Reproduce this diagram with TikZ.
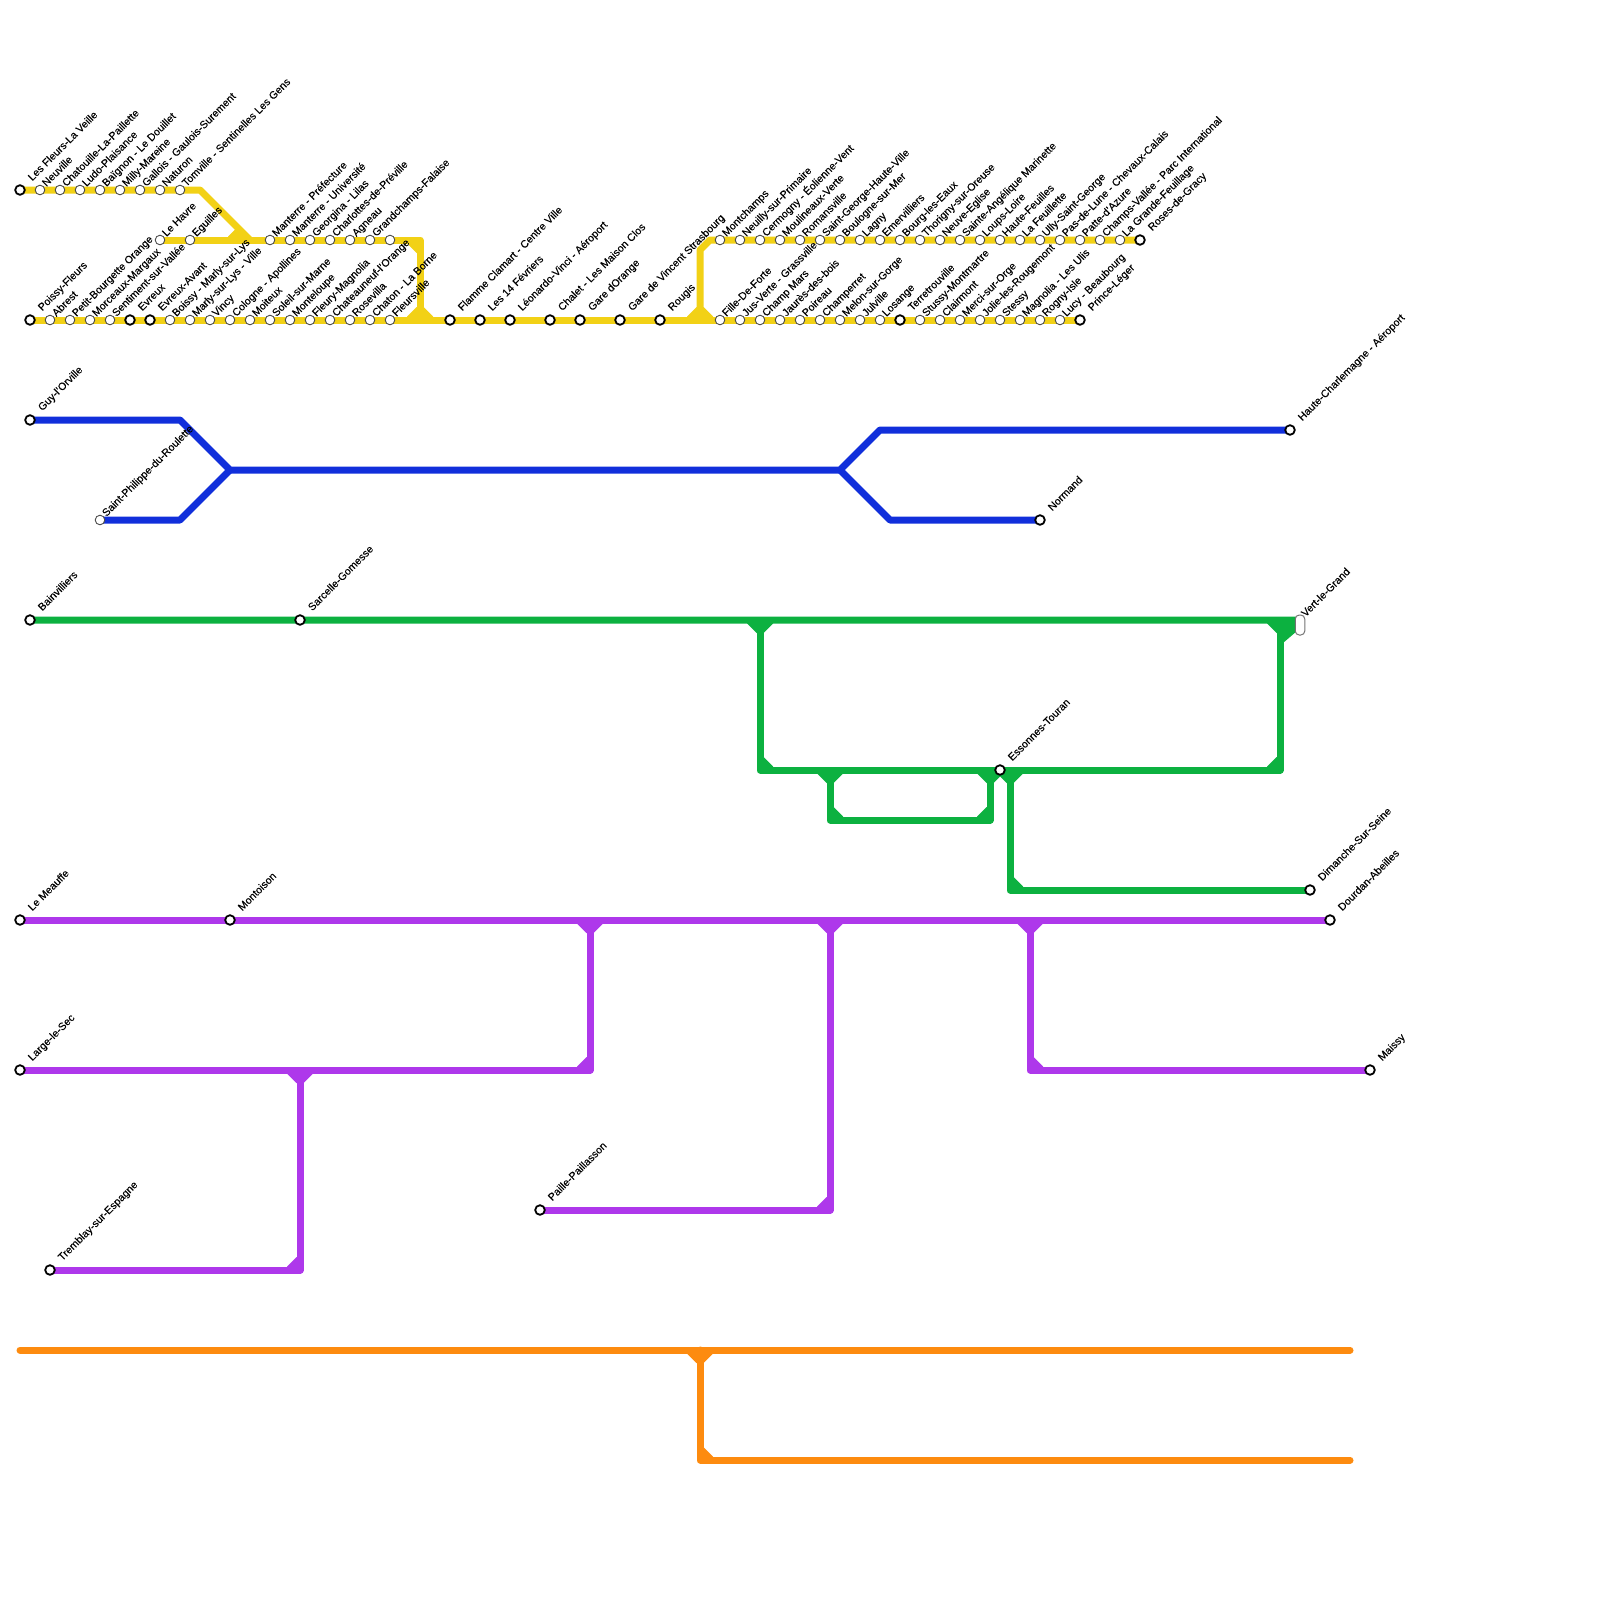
\documentclass[tikz,border=0pt]{standalone}
\usepackage{fontspec}
\setmainfont[FakeBold=0.12]{Liberation Sans}
\pgfdeclarelayer{bg}
\pgfsetlayers{bg,main}
\definecolor{cY}{HTML}{F2D116}
\definecolor{cB}{HTML}{112FDB}
\definecolor{cG}{HTML}{0CB140}
\definecolor{cP}{HTML}{AE38EB}
\definecolor{cO}{HTML}{FD8B0F}
\tikzset{
  stthin/.style={circle,draw=black!70,line width=0.9pt,fill=white,minimum size=9.6pt,inner sep=0pt},
  stthick/.style={circle,draw=black,line width=1.8pt,fill=white,minimum size=9.6pt,inner sep=0pt},
  stpill/.style={rectangle,rounded corners=4pt,draw=black!55,line width=1pt,fill=white,minimum width=9.5pt,minimum height=20pt,inner sep=0pt},
  lbl/.style={anchor=base west,rotate=45,inner sep=0pt,font=\fontsize{10.6}{11}\selectfont,text=black},
  route/.style={line width=7pt,line join=round,line cap=#1},
  route/.default=butt
}
% thin station: name, x, y, label
\newcommand\St[4]{\node[stthin] (#1) at (#2,#3) {};\node[lbl] (#1-l) at ([shift={(6.3,-2.8)}]#1.center) {#4};}
% thin station with no printed label
\newcommand\Sn[3]{\node[stthin] (#1) at (#2,#3) {};}
% thick station
\newcommand\Sk[4]{\node[stthick] (#1) at (#2,#3) {};\node[lbl] (#1-l) at ([shift={(12.2,-8.5)}]#1.center) {#4};}
% chamfer: colour, coordinate name, sx, sy
\newcommand\Ch[4]{\fill[#1] ([shift={(#3*3.5,#4*13)}]#2) -- ([shift={(#3*13,#4*3.5)}]#2) -- ([shift={(#3*13,0)}]#2) -- (#2) -- ([shift={(0,#4*13)}]#2) -- cycle;}
\newcommand\Tj[2]{\fill[#1] ([shift={(-13,0)}]#2) -- ([shift={(-13,3.5)}]#2) -- ([shift={(-3.5,13)}]#2) -- ([shift={(3.5,13)}]#2) -- ([shift={(13,3.5)}]#2) -- ([shift={(13,0)}]#2) -- cycle;}
\newcommand\Tu[2]{\fill[#1] ([shift={(-13,0)}]#2) -- ([shift={(-13,-3.5)}]#2) -- ([shift={(-3.5,-13)}]#2) -- ([shift={(3.5,-13)}]#2) -- ([shift={(13,-3.5)}]#2) -- ([shift={(13,0)}]#2) -- cycle;}
\begin{document}
\begin{tikzpicture}[x=1pt,y=-1pt]
\useasboundingbox (0,0) rectangle (1600,1600);
% row 1
\Sk{a1}{20}{190}{Les Fleurs-La Veille}
\St{a2}{40}{190}{Neuville}
\St{a3}{60}{190}{Chatouille-La-Paillette}
\St{a4}{80}{190}{Ludo-Plaisance}
\St{a5}{100}{190}{Baïgnon - Le Douillet}
\St{a6}{120}{190}{Milly-Mareine}
\St{a7}{140}{190}{Gallois - Gaulois-Surement}
\St{a8}{160}{190}{Naturon}
\St{a9}{180}{190}{Tomville - Sentinelles Les Gens}
% row 2
\St{b1}{160}{240}{Le Havre}
\St{b2}{190}{240}{Eguilles}
\St{b3}{270}{240}{Manterre - Préfecture}
\St{b4}{290}{240}{Manterre - Université}
\St{b5}{310}{240}{Georgina - Lilas}
\St{b6}{330}{240}{Charlottes-de-Préville}
\St{b7}{350}{240}{Agneau}
\St{b8}{370}{240}{Grandchamps-Falaise}
\Sn{b9}{390}{240}
\St{c1}{720}{240}{Montchamps}
\St{c2}{740}{240}{Neuilly-sur-Primaire}
\St{c3}{760}{240}{Cermogny - Éolienne-Vent}
\St{c4}{780}{240}{Moulineaux-Verte}
\St{c5}{800}{240}{Romansville}
\St{c6}{820}{240}{Saint-George-Haute-Ville}
\St{c7}{840}{240}{Boulogne-sur-Mer}
\St{c8}{860}{240}{Lagny}
\St{c9}{880}{240}{Emervilliers}
\St{c10}{900}{240}{Bourg-les-Eaux}
\St{c11}{920}{240}{Thorigny-sur-Oreuse}
\St{c12}{940}{240}{Neuve-Eglise}
\St{c13}{960}{240}{Sainte-Angélique Marinette}
\St{c14}{980}{240}{Loups-Loire}
\St{c15}{1000}{240}{Haute-Feuilles}
\St{c16}{1020}{240}{La Feuillette}
\St{c17}{1040}{240}{Ully-Saint-George}
\St{c18}{1060}{240}{Pas-de-Lune - Chevaux-Calais}
\St{c19}{1080}{240}{Patte-d'Azure}
\St{c20}{1100}{240}{Champs-Vallée - Parc International}
\St{c21}{1120}{240}{La Grande-Feuillage}
\Sk{c22}{1140}{240}{Roses-de-Gracy}
% row 3
\Sk{d1}{30}{320}{Poissy-Fleurs}
\St{d2}{50}{320}{Abrest}
\St{d3}{70}{320}{Petit-Bourgette Orange}
\St{d4}{90}{320}{Morceaux-Margaux}
\St{d5}{110}{320}{Sentiment-sur-Vallée}
\Sk{d6}{130}{320}{Evreux}
\Sk{d7}{150}{320}{Evreux-Avant}
\St{d8}{170}{320}{Boissy - Marly-sur-Lys}
\St{d9}{190}{320}{Marly-sur-Lys - Ville}
\St{d10}{210}{320}{Vincy}
\St{d11}{230}{320}{Cologne - Apollines}
\St{d12}{250}{320}{Moiteux}
\St{d13}{270}{320}{Soleil-sur-Marne}
\St{d14}{290}{320}{Monteloupe}
\St{d15}{310}{320}{Fleury-Magnolia}
\St{d16}{330}{320}{Chateauneuf-l'Orange}
\St{d17}{350}{320}{Rosevilla}
\St{d18}{370}{320}{Chaton - La Borne}
\St{d19}{390}{320}{Fleursville}
\Sk{d20}{450}{320}{Flamme Clamart - Centre Ville}
\Sk{d21}{480}{320}{Les 14 Févriers}
\Sk{d22}{510}{320}{Léonardo-Vinci - Aéroport}
\Sk{d23}{550}{320}{Chalet - Les Maison Clos}
\Sk{d24}{580}{320}{Gare dOrange}
\Sk{d25}{620}{320}{Gare de Vincent Strasbourg}
\Sk{d26}{660}{320}{Rougis}
\St{e1}{720}{320}{Fille-De-Forte}
\St{e2}{740}{320}{Jus-Verte - Grassville}
\St{e3}{760}{320}{Champ Mars}
\St{e4}{780}{320}{Jaurès-des-bois}
\St{e5}{800}{320}{Poireau}
\St{e6}{820}{320}{Champerret}
\St{e7}{840}{320}{Melon-sur-Gorge}
\St{e8}{860}{320}{Julville}
\St{e9}{880}{320}{Losange}
\Sk{e10}{900}{320}{Terretrouville}
\St{e11}{920}{320}{Stussy-Montmartre}
\St{e12}{940}{320}{Clairmont}
\St{e13}{960}{320}{Merci-sur-Orge}
\St{e14}{980}{320}{Jolie-les-Rougemont}
\St{e15}{1000}{320}{Stessy}
\St{e16}{1020}{320}{Magnolia - Les Ulis}
\St{e17}{1040}{320}{Rogny-Isle}
\St{e18}{1060}{320}{Lucy - Beaubourg}
\Sk{e19}{1080}{320}{Prince-Léger}
% blue
\Sk{f1}{30}{420}{Guy-l'Orville}
\St{f2}{100}{520}{Saint-Philippe-du-Roulette}
\Sk{f3}{1290}{430}{Haute-Charlemagne - Aéroport}
\Sk{f4}{1040}{520}{Normand}
% green
\Sk{g1}{30}{620}{Bainvilliers}
\Sk{g2}{300}{620}{Sarcelle-Gomesse}
\node[stpill] (g3) at (1300,625) {};
\node[lbl] (g3-l) at (1305.5,617.5) {Vert-le-Grand};
\Sk{g4}{1000}{770}{Essonnes-Touran}
\Sk{g5}{1310}{890}{Dimanche-Sur-Seine}
% purple
\Sk{h1}{20}{920}{Le Meauffe}
\Sk{h2}{230}{920}{Montoison}
\Sk{h3}{1330}{920}{Dourdan-Abeilles}
\Sk{h4}{20}{1070}{Large-le-Sec}
\Sk{h5}{1370}{1070}{Maissy}
\Sk{h6}{540}{1210}{Paille-Paillasson}
\Sk{h7}{50}{1270}{Tremblay-sur-Espagne}
% way points
\coordinate (wa1) at (200,190);
\coordinate (wa2) at (250,240);
\coordinate (wb1) at (420,240);
\coordinate (wb2) at (420,320);
\coordinate (wc0) at (700,320);
\coordinate (wc1) at (700,250);
\coordinate (wc2) at (710,240);
\coordinate (wf1) at (180,420);
\coordinate (wf2) at (230,470);
\coordinate (wf3) at (180,520);
\coordinate (wf4) at (840,470);
\coordinate (wf5) at (880,430);
\coordinate (wf6) at (890,520);
\coordinate (wg1) at (760,620);
\coordinate (wg2) at (760,770);
\coordinate (wg3) at (1280,770);
\coordinate (wg4) at (1280,620);
\coordinate (wg5) at (830,770);
\coordinate (wg6) at (830,820);
\coordinate (wg7) at (990,820);
\coordinate (wg8) at (990,770);
\coordinate (wg9) at (1010,770);
\coordinate (wg10) at (1010,890);
\coordinate (wg11) at (1283,643);
\coordinate (wg12) at (1297,631);
\coordinate (wg13) at (1297,620);
\coordinate (wp1) at (590,920);
\coordinate (wp2) at (590,1070);
\coordinate (wp3) at (300,1070);
\coordinate (wp4) at (300,1270);
\coordinate (wp5) at (830,920);
\coordinate (wp6) at (830,1210);
\coordinate (wp7) at (1030,920);
\coordinate (wp8) at (1030,1070);
\coordinate (wo1) at (20,1350);
\coordinate (wo2) at (1350,1350);
\coordinate (wo3) at (700,1350);
\coordinate (wo4) at (700,1460);
\coordinate (wo5) at (1350,1460);
\begin{pgfonlayer}{bg}
% yellow
\draw[route,draw=cY] (a1.center) -- (wa1) -- (wa2);
\draw[route,draw=cY] (b1.center) -- (wb1) -- (wb2);
\draw[route,draw=cY] (d1.center) -- (e19.center);
\draw[route,draw=cY] (wc0) -- (wc1) -- (wc2) -- (c22.center);
\fill[cY] ([shift={(-22,0)}]wa2) -- ([shift={(-22,-3.5)}]wa2) -- ([shift={(-14,-11.5)}]wa2) -- ([shift={(-5,-5)}]wa2) -- ([shift={(-5,0)}]wa2) -- cycle;
\Ch{cY}{wb1}{-1}{1}
\Tu{cY}{wb2}
\Tu{cY}{wc0}
% blue
\draw[route,draw=cB] (f1.center) -- (wf1) -- (wf2) -- (wf4) -- (wf5) -- (f3.center);
\draw[route,draw=cB] (f2.center) -- (wf3) -- (wf2);
\draw[route,draw=cB] (wf4) -- (wf6) -- (f4.center);
% green
\draw[route,draw=cG] (g1.center) -- (wg13) -- (g3.center);
\draw[route,draw=cG] (wg1) -- (wg2) -- (wg3) -- (wg4);
\draw[route,draw=cG] (wg5) -- (wg6) -- (wg7) -- (wg8);
\draw[route,draw=cG] (wg9) -- (wg10) -- (g5.center);
\fill[cG] (wg4) -- (wg13) -- (wg12) -- (wg11) -- cycle;
\Tj{cG}{wg1}
\Ch{cG}{wg2}{1}{-1}
\Ch{cG}{wg3}{-1}{-1}
\Tj{cG}{wg4}
\Tj{cG}{wg5}
\Ch{cG}{wg6}{1}{-1}
\Ch{cG}{wg7}{-1}{-1}
\Tj{cG}{wg8}
\Tj{cG}{wg9}
\Ch{cG}{wg10}{1}{-1}
% purple
\draw[route,draw=cP] (h1.center) -- (h3.center);
\draw[route,draw=cP] (h4.center) -- (wp2) -- (wp1);
\draw[route,draw=cP] (h7.center) -- (wp4) -- (wp3);
\draw[route,draw=cP] (h6.center) -- (wp6) -- (wp5);
\draw[route,draw=cP] (wp7) -- (wp8) -- (h5.center);
\Tj{cP}{wp1}
\Ch{cP}{wp2}{-1}{-1}
\Tj{cP}{wp3}
\Ch{cP}{wp4}{-1}{-1}
\Tj{cP}{wp5}
\Ch{cP}{wp6}{-1}{-1}
\Tj{cP}{wp7}
\Ch{cP}{wp8}{1}{-1}
% orange
\draw[route=round,draw=cO] (wo1) -- (wo2);
\draw[route,draw=cO,line cap=round] (wo3) -- (wo4) -- (wo5);
\Tj{cO}{wo3}
\Ch{cO}{wo4}{1}{-1}
\end{pgfonlayer}
\end{tikzpicture}
\end{document}
